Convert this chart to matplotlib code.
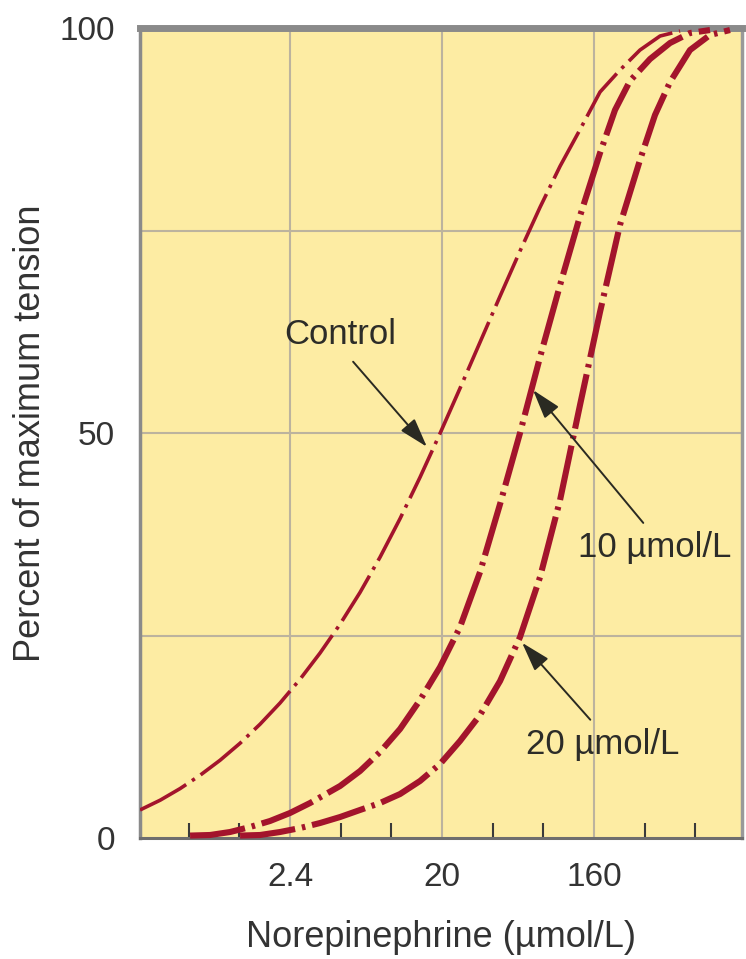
import matplotlib
matplotlib.use('Agg')
import matplotlib.pyplot as plt

plt.rcParams['font.family'] = ['Liberation Sans', 'DejaVu Sans']
plt.rcParams['lines.scale_dashes'] = False

# ---- data (x: norepinephrine µmol/L, y: percent of maximum tension) ----
control_x = [0.308, 0.406, 0.533, 0.700, 0.921, 1.211, 1.592, 2.093, 2.751, 3.618, 4.757,
             6.252, 8.22, 10.81, 14.21, 18.68, 24.56, 32.29, 42.46, 55.8, 73.4, 96.5,
             126.8, 166.7, 219, 288, 379, 498]
control_y = [3.46, 4.67, 6.10, 7.74, 9.60, 11.70, 14.05, 16.67, 19.60, 22.84, 26.40,
             30.32, 34.67, 39.43, 44.54, 49.95, 55.53, 61.21, 66.89, 72.47, 77.88, 82.94,
             87.46, 92.10, 94.81, 97.28, 99.01, 99.63]

ten_x = [0.611, 0.803, 1.056, 1.389, 1.825, 2.4, 3.156, 4.757, 6.252, 8.22, 10.81, 14.21,
         18.68, 24.56, 32.29, 42.46, 55.8, 73.4, 96.5, 126.8, 166.7, 204.7, 251, 330.4,
         434.5, 571, 750.7]
ten_y = [0.3, 0.37, 0.74, 1.36, 2.10, 3.09, 4.32, 6.42, 8.27, 10.62, 13.46, 17.04,
         21.11, 26.05, 32.84, 41.23, 50.0, 59.38, 68.27, 76.79, 84.57, 89.88, 93.46, 96.17,
         98.15, 99.38, 99.75]

twenty_x = [1.211, 1.592, 2.093, 2.751, 3.618, 4.757, 6.252, 8.22, 10.81, 14.21, 18.68,
            24.56, 32.29, 42.46, 55.8, 73.4, 96.5, 126.8, 166.7, 219, 288, 353.7, 434.5,
            571, 750.7, 986.9]
twenty_y = [0.3, 0.37, 0.74, 1.23, 1.85, 2.59, 3.46, 4.32, 5.43, 7.04, 9.14,
            11.98, 15.19, 19.38, 24.81, 32.22, 41.73, 53.46, 64.94, 75.68, 83.70, 89.26, 93.33,
            97.28, 99.14, 99.75]

major_x = [2.4, 19.2, 153.6]
major_labels = ['2.4', '20', '160']
minor_x = [0.6, 1.2, 4.8, 9.6, 38.4, 76.8, 307.2, 614.4]
y_ticks = [0, 50, 100]
y_grid = [25, 50, 75]

labels = ['Control', '10 \u00b5mol/L', '20 \u00b5mol/L']
arrow_heads = [(15.6, 48.3), (66.7, 55.3), (57.4, 24.1)]

RED = '#a3142c'
TXT = '#2c2c28'

fig = plt.figure(figsize=(7.46, 9.59), dpi=100)
ax = fig.add_axes([140/746, 121/959, 602/746, 810/959])
ax.set_facecolor('#fdeca3')
ax.set_xscale('log', base=2)
ax.set_xlim(0.308, 1163)
ax.set_ylim(0, 100)

for xv in major_x:
    ax.axvline(xv, color='#bcb39e', lw=1.5, zorder=1)
for yv in y_grid:
    ax.axhline(yv, color='#bcb39e', lw=1.5, zorder=1)

ax.plot(control_x, control_y, color=RED, lw=2.6, dashes=[38, 5, 2.5, 5],
        dash_capstyle='butt', solid_joinstyle='round', zorder=3)
ax.plot(ten_x, ten_y, color=RED, lw=4.4, dashes=[40, 5, 2.5, 5],
        dash_capstyle='butt', solid_joinstyle='round', zorder=3, clip_on=False)
ax.plot(twenty_x, twenty_y, color=RED, lw=4.4, dashes=[40, 5, 2.5, 5],
        dash_capstyle='butt', solid_joinstyle='round', zorder=3, clip_on=False)

# ticks
ax.set_xticks(major_x)
ax.set_xticklabels(major_labels)
ax.set_xticks(minor_x, minor=True)
ax.xaxis.set_minor_formatter(matplotlib.ticker.NullFormatter())
ax.tick_params(axis='x', which='major', length=0, pad=17, labelsize=24, labelcolor='#333333')
ax.tick_params(axis='x', which='minor', direction='in', length=11, width=1.5, color='#3a3a3a')
ax.set_yticks(y_ticks)
ax.set_yticklabels([str(v) for v in y_ticks])
ax.tick_params(axis='y', length=0, pad=18, labelsize=24, labelcolor='#333333')

ax.set_xlabel('Norepinephrine (\u00b5mol/L)', fontsize=26, color='#333333', labelpad=20)
ax.set_ylabel('Percent of maximum tension', fontsize=26, color='#333333')
ax.yaxis.set_label_coords(-0.152, 0.5)

# frame
ax.spines['top'].set_color('#8a8a8a')
ax.spines['top'].set_linewidth(5)
ax.spines['left'].set_color('#8a8a8a')
ax.spines['left'].set_linewidth(2.5)
ax.spines['right'].set_color('#999999')
ax.spines['right'].set_linewidth(2.5)
ax.spines['bottom'].set_color('#6e6e6e')
ax.spines['bottom'].set_linewidth(2.2)

# annotations
text_pos = [(0.332, 0.621), (0.855, 0.359), (0.769, 0.115)]
tail_pos = [(0.354, 0.588), (0.836, 0.389), (0.748, 0.146)]
for lab, tp, tl, hd in zip(labels, text_pos, tail_pos, arrow_heads):
    ax.text(tp[0], tp[1], lab, transform=ax.transAxes, ha='center', va='center',
            fontsize=25, color=TXT, zorder=5)
    ax.annotate('', xy=hd, xycoords='data', xytext=tl, textcoords='axes fraction',
                arrowprops=dict(arrowstyle='-|>,head_length=0.9,head_width=0.28',
                                color='#2a2a22', lw=1.4, mutation_scale=20,
                                shrinkA=0, shrinkB=0), zorder=5)

fig.savefig('out.png', dpi=100, facecolor='white')
